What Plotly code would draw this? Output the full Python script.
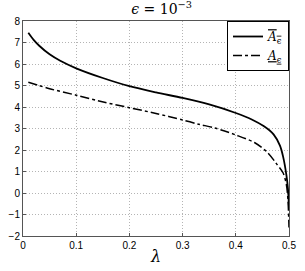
import plotly.graph_objects as go

lam_upper = [0.01, 0.02, 0.03, 0.05, 0.07, 0.1, 0.15, 0.2, 0.25, 0.3, 0.35, 0.4, 0.43, 0.453, 0.471, 0.483, 0.489, 0.495, 0.498, 0.5]
a_upper = [7.45, 7.12, 6.86, 6.45, 6.15, 5.8, 5.35, 4.97, 4.68, 4.42, 4.12, 3.72, 3.42, 3.1, 2.73, 2.2, 1.68, 0.85, 0.2, -0.7]

lam_lower = [0.01, 0.03, 0.05, 0.1, 0.153, 0.2, 0.25, 0.3, 0.33, 0.36, 0.4, 0.435, 0.459, 0.476, 0.489, 0.495, 0.498, 0.5]
a_lower = [5.15, 5.0, 4.85, 4.55, 4.22, 3.97, 3.7, 3.40, 3.2, 3.03, 2.7, 2.35, 1.9, 1.38, 0.93, 0.4, -0.3, -1.6]

x_ticks = [0, 0.1, 0.2, 0.3, 0.4, 0.5]
x_tick_labels = ["0", "0.1", "0.2", "0.3", "0.4", "0.5"]
y_ticks = [-2, -1, 0, 1, 2, 3, 4, 5, 6, 7, 8]
y_tick_labels = ["\u22122", "\u22121", "0", "1", "2", "3", "4", "5", "6", "7", "8"]

fig = go.Figure()
fig.add_trace(go.Scatter(
    x=lam_upper, y=a_upper, mode="lines", line=dict(color="black", width=1.8, shape="spline", smoothing=0.8),
    name='<span style="text-decoration:overline"><i>A</i><sub>ϵ</sub></span>'))
fig.add_trace(go.Scatter(
    x=lam_lower, y=a_lower, mode="lines", line=dict(color="black", width=1.5, dash="dashdot", shape="spline", smoothing=0.8),
    name='<span style="text-decoration:underline"><i>A</i><sub>ϵ</sub></span>'))

axis_common = dict(showline=True, linecolor="#555555", linewidth=1, mirror=True,
                   showgrid=True, gridcolor="#b4b4b4", griddash="1px,2px", gridwidth=1,
                   ticks="inside", ticklen=3, tickcolor="#555555", zeroline=False,
                   ticklabeloverflow="allow",
                   tickfont=dict(family="Liberation Sans, Arial, sans-serif", size=10, color="black"))

fig.update_xaxes(range=[0, 0.5], tickvals=x_ticks, ticktext=x_tick_labels,
                 title=dict(text="<i>λ</i>", font=dict(family="DejaVu Serif, serif", size=16, color="black"), standoff=0),
                 **axis_common)
fig.update_yaxes(range=[-2, 8], tickvals=y_ticks, ticktext=y_tick_labels, **axis_common)

fig.update_layout(
    width=305, height=271,
    margin=dict(l=14, r=9, t=21, b=28),
    paper_bgcolor="white", plot_bgcolor="white",
    title=dict(text="<i>ϵ</i> = 10<sup>−3</sup>", x=0.53, xanchor="center", y=0.985, yanchor="top",
               font=dict(family="DejaVu Serif, serif", size=14, color="black")),
    legend=dict(x=1, y=1, xanchor="right", yanchor="top", bgcolor="white",
                bordercolor="black", borderwidth=1,
                font=dict(family="DejaVu Serif, serif", size=12, color="black"),
                tracegroupgap=0, itemwidth=30),
    showlegend=True,
)

fig.write_html("out.html", config={"displayModeBar": False},
               post_script="document.body.style.margin='0';document.body.style.overflow='hidden';")
